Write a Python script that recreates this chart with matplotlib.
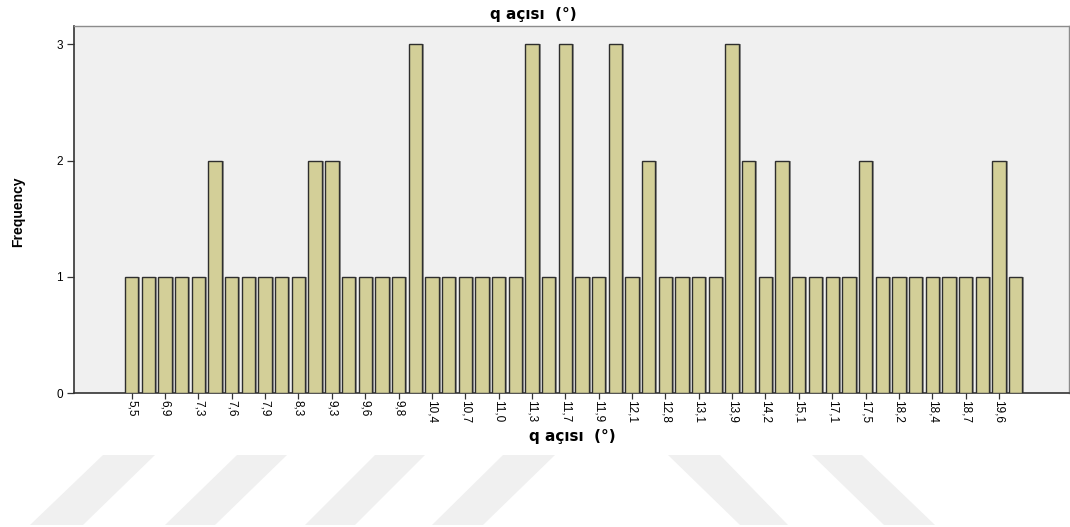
import matplotlib
matplotlib.use("Agg")
import matplotlib.pyplot as plt
from matplotlib.patches import Polygon
import numpy as np

plt.rcParams['font.family'] = ['Liberation Sans', 'DejaVu Sans']

# Category values (every other label is shown on the axis; hidden ones estimated)
categories = ["5,5", "6,4", "6,9", "7,1", "7,3", "7,4", "7,6", "7,7", "7,9", "8,1",
              "8,3", "8,8", "9,3", "9,4", "9,6", "9,7", "9,8", "10,0", "10,4", "10,6",
              "10,7", "10,8", "11,0", "11,2", "11,3", "11,6", "11,7", "11,8", "11,9", "12,0",
              "12,1", "12,5", "12,8", "13,0", "13,1", "13,6", "13,9", "14,0", "14,2", "14,8",
              "15,1", "16,3", "17,1", "17,3", "17,5", "18,0", "18,2", "18,3", "18,4", "18,6",
              "18,7", "19,1", "19,6", "20,1"]
frequency = [1, 1, 1, 1, 1, 2, 1, 1, 1, 1,
             1, 2, 2, 1, 1, 1, 1, 3, 1, 1,
             1, 1, 1, 1, 3, 1, 3, 1, 1, 3,
             1, 2, 1, 1, 1, 1, 3, 2, 1, 2,
             1, 1, 1, 1, 2, 1, 1, 1, 1, 1,
             1, 1, 2, 1]
y_ticks = [0, 1, 2, 3]
title = "q açısı  (°)"
xlabel = "q açısı  (°)"
ylabel = "Frequency"

W, H = 1070, 527
fig = plt.figure(figsize=(W / 100, H / 100), dpi=100)
fig.patch.set_facecolor("white")

# watermark stripes (figure pixel coords -> fraction)
stripes = [
    [(103, 455), (155, 455), (83, 525), (30, 525)],
    [(237, 455), (287, 455), (215, 525), (165, 525)],
    [(375, 455), (425, 455), (355, 525), (305, 525)],
    [(503, 455), (555, 455), (483, 525), (432, 525)],
    [(668, 455), (720, 455), (788, 525), (740, 525)],
    [(812, 455), (862, 455), (935, 525), (884, 525)],
]
for s in stripes:
    pts = [(x / W, 1 - y / H) for x, y in s]
    fig.patches.append(Polygon(pts, closed=True, transform=fig.transFigure,
                               facecolor="#f0f0f0", edgecolor="none", zorder=0))

left, right, top, bottom = 74, 1069, 25.7, 393.3
ax = fig.add_axes([left / W, 1 - bottom / H, (right - left) / W, (bottom - top) / H])
ax.set_facecolor("#f0f0f0")

x = np.arange(len(categories))
# subtle shadow
ax.bar(x + 0.12, frequency, width=0.8, color="#9a9a9a", edgecolor="none", zorder=2)
ax.bar(x, frequency, width=0.8, color="#d3cf98", edgecolor="#2e2e2e", linewidth=1.0, zorder=3)

ax.set_xlim(-3.46, 56.2)
ax.set_ylim(0, 3.16)

ax.set_yticks(y_ticks)
ax.set_yticklabels([str(v) for v in y_ticks], fontsize=8.5)
ax.set_xticks(x[::2])
ax.set_xticklabels(categories[::2], rotation=-90, fontsize=8.5)
ax.tick_params(axis="y", length=5, width=0.9, color="#333333", pad=3)
ax.tick_params(axis="x", length=4, width=0.9, color="#333333", pad=0.5)

for side in ["top", "right"]:
    ax.spines[side].set_color("#8c8c8c")
    ax.spines[side].set_linewidth(1.0)
for side in ["left", "bottom"]:
    ax.spines[side].set_color("#333333")
    ax.spines[side].set_linewidth(1.2)

fig.text(533 / W, 1 - 14 / H, title, ha="center", va="center", fontsize=11,
         fontweight="bold", family=["DejaVu Sans"])
fig.text(572 / W, 1 - 437 / H, xlabel, ha="center", va="center", fontsize=11,
         fontweight="bold", family=["DejaVu Sans"])
fig.text(18 / W, 1 - 212 / H, ylabel, ha="center", va="center", rotation=90,
         fontsize=10, fontweight="bold",
         family=["Liberation Sans Narrow", "Liberation Sans", "DejaVu Sans"])

fig.savefig("out.png", dpi=100)
